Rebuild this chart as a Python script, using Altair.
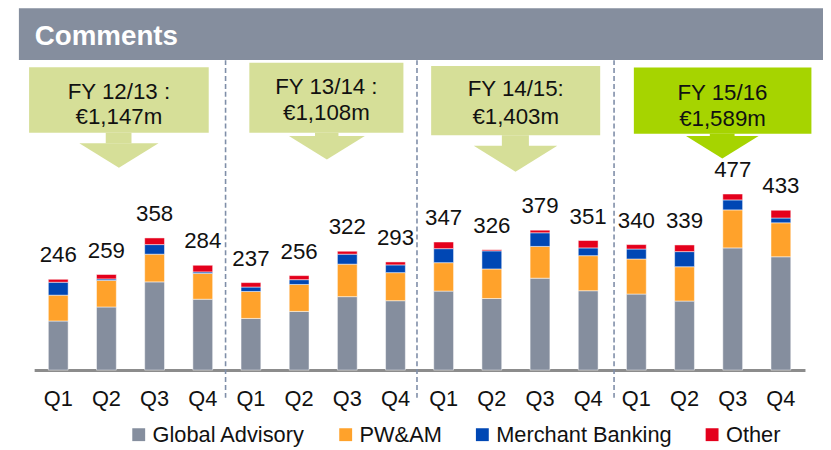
import altair as alt
import pandas as pd

# ---------------- data ----------------
FISCAL_YEARS = ["12/13", "13/14", "14/15", "15/16"]
QUARTERS = ["Q1", "Q2", "Q3", "Q4"]
SEGMENTS = ["Global Advisory", "PW&AM", "Merchant Banking", "Other"]

GLOBAL_ADVISORY = [133, 171, 239, 192, 140, 159, 199, 188, 214, 194, 249, 215, 206, 187, 331, 307]
PWAM = [70, 72, 75, 70, 73, 73, 88, 76, 77, 80, 86, 95, 95, 93, 103, 92]
MERCHANT_BANKING = [35, 4, 26, 4, 12, 13, 27, 21, 38, 49, 37, 21, 27, 41, 27, 13]
OTHER = [8, 12, 18, 18, 12, 11, 8, 8, 18, 3, 7, 20, 12, 18, 16, 21]
TOTALS = [246, 259, 358, 284, 237, 256, 322, 293, 347, 326, 379, 351, 340, 339, 477, 433]

FY_LINE1 = ["FY 12/13 :", "FY 13/14 :", "FY 14/15:", "FY 15/16"]
FY_LINE2 = ["€1,147m", "€1,108m", "€1,403m", "€1,589m"]
HEADER_TEXT = "Comments"

# ---------------- styles ----------------
FONT = "Liberation Sans"
SEG_COLORS = ["#858E9E", "#FFA22B", "#0047B4", "#E4001C"]
HEADER_COLOR = "#858E9E"
LIGHT_GREEN = "#D6DF98"
BRIGHT_GREEN = "#A6D400"
SEP_COLOR = "#7F8EA8"
AXIS_COLOR = "#8C8C8C"
TEXT_COLOR = "#111111"

# ---------------- layout (page pixels) ----------------
PLOT_LEFT = 34.4      # page x of plot area
PLOT_TOP = 8.0        # page y of plot area
STEP = 48.65
W = 16 * STEP
H = 363.5
Y_MAX = 975
TOTAL_W = 823
TOTAL_H = 442


def px(x):
    return x - PLOT_LEFT


def py(y):
    return y - PLOT_TOP


CALLOUT_LAYOUT = [
    dict(box=(29.3, 210.7, 65.7, 131.7), stem=(106.7, 132.7, 131.7, 142.6), head=(80, 160, 142.3),
         cx=120, b1=97.7, b2=123.3, fill=LIGHT_GREEN),
    dict(box=(251.7, 407.3, 61.0, 131.7), stem=(318, 341.7, 131.7, 135.3), head=(291.7, 368.3, 135),
         cx=329.5, b1=92.3, b2=119.0, fill=LIGHT_GREEN),
    dict(box=(435.3, 606.0, 64.3, 134.3), stem=(506.7, 534, 134.3, 145.3), head=(478.3, 562.7, 145),
         cx=520.7, b1=95.0, b2=123.3, fill=LIGHT_GREEN),
    dict(box=(640.0, 819.3, 66.0, 132.7), stem=(716.7, 741.7, 132.7, 135.3), head=(692.7, 766, 135),
         cx=729.5, b1=99.0, b2=125.0, fill=BRIGHT_GREEN),
]
SEPARATOR_X = [227.7, 421.0, 620.0]
SEPARATOR_Y = (58.5, 400.0)
HEADER_BOX = (19.0, 831.0, 6.0, 58.3)
HEADER_TEXT_POS = (35.0, 42.7)

# ---------------- tables ----------------
keys = [f"{fy} {q}" for fy in FISCAL_YEARS for q in QUARTERS]
series = [GLOBAL_ADVISORY, PWAM, MERCHANT_BANKING, OTHER]
rows = []
for i, k in enumerate(keys):
    for s, (name, vals) in enumerate(zip(SEGMENTS, series)):
        rows.append({"key": k, "segment": name, "order": s, "value": vals[i]})
bars_df = pd.DataFrame(rows)
totals_df = pd.DataFrame({"key": keys, "total": TOTALS})

rect_rows = [{"x": px(HEADER_BOX[0]), "x2": px(HEADER_BOX[1]), "y": py(HEADER_BOX[2]),
              "y2": py(HEADER_BOX[3]), "fill": HEADER_COLOR}]
head_rows, text_rows = [], []
for i, c in enumerate(CALLOUT_LAYOUT):
    for part in ("box", "stem"):
        x0, x1, y0, y1 = c[part]
        rect_rows.append({"x": px(x0), "x2": px(x1), "y": py(y0), "y2": py(y1), "fill": c["fill"]})
    hx0, hx1, hy = c["head"]
    head_rows.append({"x": px((hx0 + hx1) / 2), "y": py(hy), "size": (hx1 - hx0) ** 2, "fill": c["fill"]})
    text_rows.append({"x": px(c["cx"]), "y": py(c["b1"]), "text": FY_LINE1[i]})
    text_rows.append({"x": px(c["cx"]), "y": py(c["b2"]), "text": FY_LINE2[i]})
rect_df = pd.DataFrame(rect_rows)
head_df = pd.DataFrame(head_rows)
text_df = pd.DataFrame(text_rows)
sep_df = pd.DataFrame({"x": [px(v) for v in SEPARATOR_X],
                       "y": py(SEPARATOR_Y[0]), "y2": py(SEPARATOR_Y[1])})
header_df = pd.DataFrame({"x": [px(HEADER_TEXT_POS[0])], "y": [py(HEADER_TEXT_POS[1])], "text": [HEADER_TEXT]})

# ---------------- layers ----------------
rects = alt.Chart(rect_df).mark_rect().encode(
    x=alt.X("x:Q", scale=None, axis=None),
    x2="x2:Q",
    y=alt.Y("y:Q", scale=None, axis=None),
    y2="y2:Q",
    fill=alt.Fill("fill:N", scale=None),
)

heads = alt.Chart(head_df).mark_point(
    shape="M-1,0L1,0L0,0.62Z", filled=True, opacity=1, strokeWidth=0
).encode(
    x=alt.X("x:Q", scale=None, axis=None),
    y=alt.Y("y:Q", scale=None, axis=None),
    size=alt.Size("size:Q", scale=None),
    fill=alt.Fill("fill:N", scale=None),
)

box_text = alt.Chart(text_df).mark_text(
    font=FONT, fontSize=22.5, color=TEXT_COLOR, align="center", baseline="alphabetic"
).encode(
    x=alt.X("x:Q", scale=None, axis=None),
    y=alt.Y("y:Q", scale=None, axis=None),
    text="text:N",
)

header_text = alt.Chart(header_df).mark_text(
    font=FONT, fontSize=28, fontWeight="bold", color="white", align="left", baseline="alphabetic"
).encode(
    x=alt.X("x:Q", scale=None, axis=None),
    y=alt.Y("y:Q", scale=None, axis=None),
    text="text:N",
)

separators = alt.Chart(sep_df).mark_rule(
    color=SEP_COLOR, strokeWidth=1.6, strokeDash=[5, 3]
).encode(
    x=alt.X("x:Q", scale=None, axis=None),
    y=alt.Y("y:Q", scale=None, axis=None),
    y2="y2:Q",
)

x_enc = alt.X(
    "key:N", sort=keys, title=None,
    scale=alt.Scale(paddingInner=0.589, paddingOuter=0.2945),
    axis=alt.Axis(
        labelExpr="slice(datum.value, -2)", labelAngle=0, ticks=False, tickSize=0,
        labelPadding=19, labelFontSize=22, labelFont=FONT, labelColor=TEXT_COLOR,
        domainColor=AXIS_COLOR, domainWidth=3, grid=False,
    ),
)
y_scale = alt.Scale(domain=[0, Y_MAX], nice=False, zero=True)

bars = alt.Chart(bars_df).mark_bar(stroke="white", strokeWidth=0.7, strokeOpacity=0.7).encode(
    x=x_enc,
    y=alt.Y("value:Q", stack="zero", scale=y_scale, axis=None),
    color=alt.Color(
        "segment:N",
        scale=alt.Scale(domain=SEGMENTS, range=SEG_COLORS),
        legend=alt.Legend(
            title=None, orient="none", direction="horizontal", columns=4,
            legendX=px(129), legendY=py(425.7), padding=0,
            symbolType="square", symbolSize=169, symbolStrokeWidth=0, symbolOpacity=1,
            labelFontSize=22, labelFont=FONT, labelColor=TEXT_COLOR, labelOffset=3,
            labelLimit=400, columnPadding=29,
        ),
    ),
    order=alt.Order("order:Q", sort="ascending"),
)

totals = alt.Chart(totals_df).mark_text(
    font=FONT, fontSize=22.5, color=TEXT_COLOR, align="center", baseline="alphabetic", dy=-17
).encode(
    x=alt.X("key:N", sort=keys),
    y=alt.Y("total:Q", scale=y_scale, axis=None),
    text="total:Q",
)

chart = alt.layer(
    rects, separators, heads, box_text, header_text, bars, totals
).properties(
    width=W,
    height=H,
    autosize=alt.AutoSizeParams(type="none"),
    padding={"left": PLOT_LEFT - 8, "top": PLOT_TOP - 8,
             "right": TOTAL_W - (PLOT_LEFT - 8) - W, "bottom": TOTAL_H - H - (PLOT_TOP - 8)},
    background="white",
).configure_view(stroke=None)

chart.save("out.html", embed_options={"renderer": "svg", "actions": False})
